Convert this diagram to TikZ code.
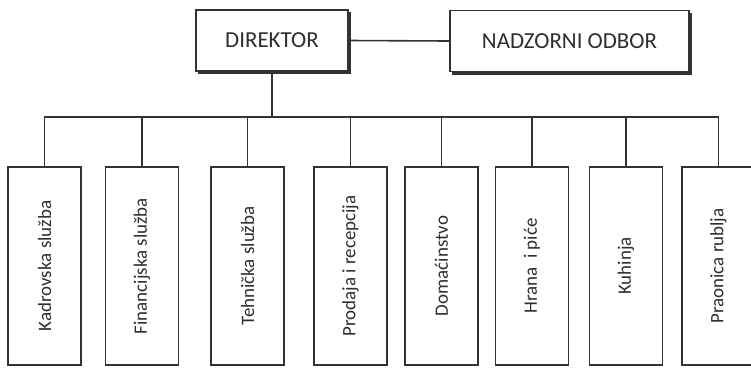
\documentclass[tikz,border=0pt]{standalone}
\usepackage{fontspec}
\setmainfont{Carlito}
\definecolor{ink}{HTML}{333333}
\definecolor{txt}{HTML}{2E2E2E}
\tikzset{
  topbox/.style={draw=ink, line width=1.6bp, fill=white, inner sep=0pt, minimum height=61bp,
    font=\fontsize{23}{26}\selectfont, text=txt,
    preaction={draw=ink, fill=ink, line width=1.2bp, transform canvas={xshift=2.8bp,yshift=-2.8bp}}},
  unitbox/.style={draw=ink, line width=1.6bp, inner sep=0pt, minimum width=73bp, minimum height=198bp},
  unittext/.style={rotate=90, font=\fontsize{19}{22}\selectfont, text=txt},
  conn/.style={draw=ink, line width=1.6bp}
}
\begin{document}
\begin{tikzpicture}[x=1bp,y=-1bp]
\useasboundingbox[fill=white] (0,0) rectangle (751,367);
\node[topbox, minimum width=152bp] (dir) at (272,40.5) {DIREKTOR};
\node[topbox, minimum width=239bp] (nad) at (569.5,41) {NADZORNI ODBOR};
\draw[conn] (dir.east) -- (nad.west);
\foreach \i/\x/\t in {1/44.5/Kadrovska služba, 2/142/Financijska služba, 3/247.5/Tehnička služba,
   4/350.5/Prodaja i recepcija, 5/441.5/Domaćinstvo, 6/532/Hrana\ \ i piće, 7/626/Kuhinja, 8/718.5/Praonica rublja}{
  \node[unitbox] (u\i) at (\x,266) {};
  \node[unittext] (t\i) at (u\i.center) {\t};
}
\coordinate (bus) at (272,117);
\draw[conn] (dir.south) -- (bus);
\draw[conn] (u1.north) |- (bus) -| (u8.north);
\foreach \i in {2,...,7}{
  \draw[conn] (u\i.north) -- (u\i.north |- bus);
}
\end{tikzpicture}
\end{document}
